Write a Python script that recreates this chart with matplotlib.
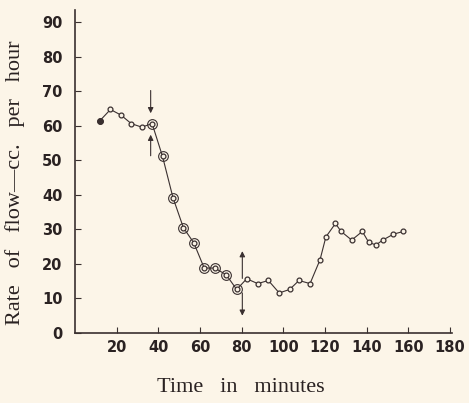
import matplotlib.pyplot as plt

# data
time = [12, 17, 22, 27, 32, 37, 42, 47, 52, 57, 62, 67, 72.5, 77.6, 82.4, 87.7,
        92.8, 98, 103, 107.5, 112.8, 117.6, 120.4, 125, 127.7, 132.8, 137.9,
        141, 144.5, 147.7, 152.8, 157.6]
flow = [61.5, 64.7, 63.1, 60.6, 59.6, 60.6, 51.1, 39.2, 30.5, 26.1, 18.8, 18.8,
        16.9, 12.6, 15.7, 14.3, 15.2, 11.6, 12.6, 15.2, 14.3, 21.2, 27.8, 31.7,
        29.4, 26.9, 29.4, 26.2, 25.5, 26.9, 28.6, 29.4]
# indices of the points drawn with a ring around them
ringed = [5, 6, 7, 8, 9, 10, 11, 12, 13]

# arrows: (x, y_start, y_end)
arrows = [(36.3, 71, 62.8), (36.3, 50.5, 58.2), (80.3, 15, 24.5), (80.3, 12.4, 4.2)]

xticks = [20, 40, 60, 80, 100, 120, 140, 160, 180]
yticks = [0, 10, 20, 30, 40, 50, 60, 70, 80, 90]

bg = "#fcf5e8"
ink = "#3a3030"

fig = plt.figure(figsize=(4.69, 4.03), dpi=100, facecolor=bg)
ax = fig.add_axes([0.16, 0.1737, 0.804, 0.8015], facecolor=bg)

ax.plot(time, flow, color=ink, lw=0.8, marker="o", ms=3.5, mfc=bg, mec=ink, mew=0.9)
ax.plot(time[0], flow[0], "o", ms=4, color=ink)
ax.plot([time[i] for i in ringed], [flow[i] for i in ringed], "o", ms=7,
        mfc="none", mec=ink, mew=0.8)

for x, y0, y1 in arrows:
    ax.annotate("", xy=(x, y1), xytext=(x, y0),
                arrowprops=dict(arrowstyle="-|>", color=ink, lw=0.8, mutation_scale=8))

ax.set_xlim(0, 181)
ax.set_ylim(0, 93.5)
ax.set_xticks(xticks)
ax.set_yticks(yticks)
for s in ["top", "right"]:
    ax.spines[s].set_visible(False)
for s in ["left", "bottom"]:
    ax.spines[s].set_color(ink)
    ax.spines[s].set_linewidth(1.2)
ax.tick_params(direction="in", length=4, width=0.8, color=ink, labelcolor="#2a2222",
               labelsize=10.5)
ax.tick_params(axis="y", pad=9)
ax.tick_params(axis="x", pad=5)
for lab in ax.get_xticklabels() + ax.get_yticklabels():
    lab.set_fontweight("bold")

fig.text(241 / 469, 1 - 387 / 403, "Time   in   minutes", ha="center", va="center",
         family="Liberation Serif", fontsize=16, color="#2a2222")
fig.text(15 / 469, 1 - 183 / 403, "Rate   of   flow\u2014cc.   per   hour", ha="center",
         va="center", rotation=90, family="Liberation Serif", fontsize=16,
         color="#2a2222")

fig.savefig("out.png", dpi=100, facecolor=bg)
